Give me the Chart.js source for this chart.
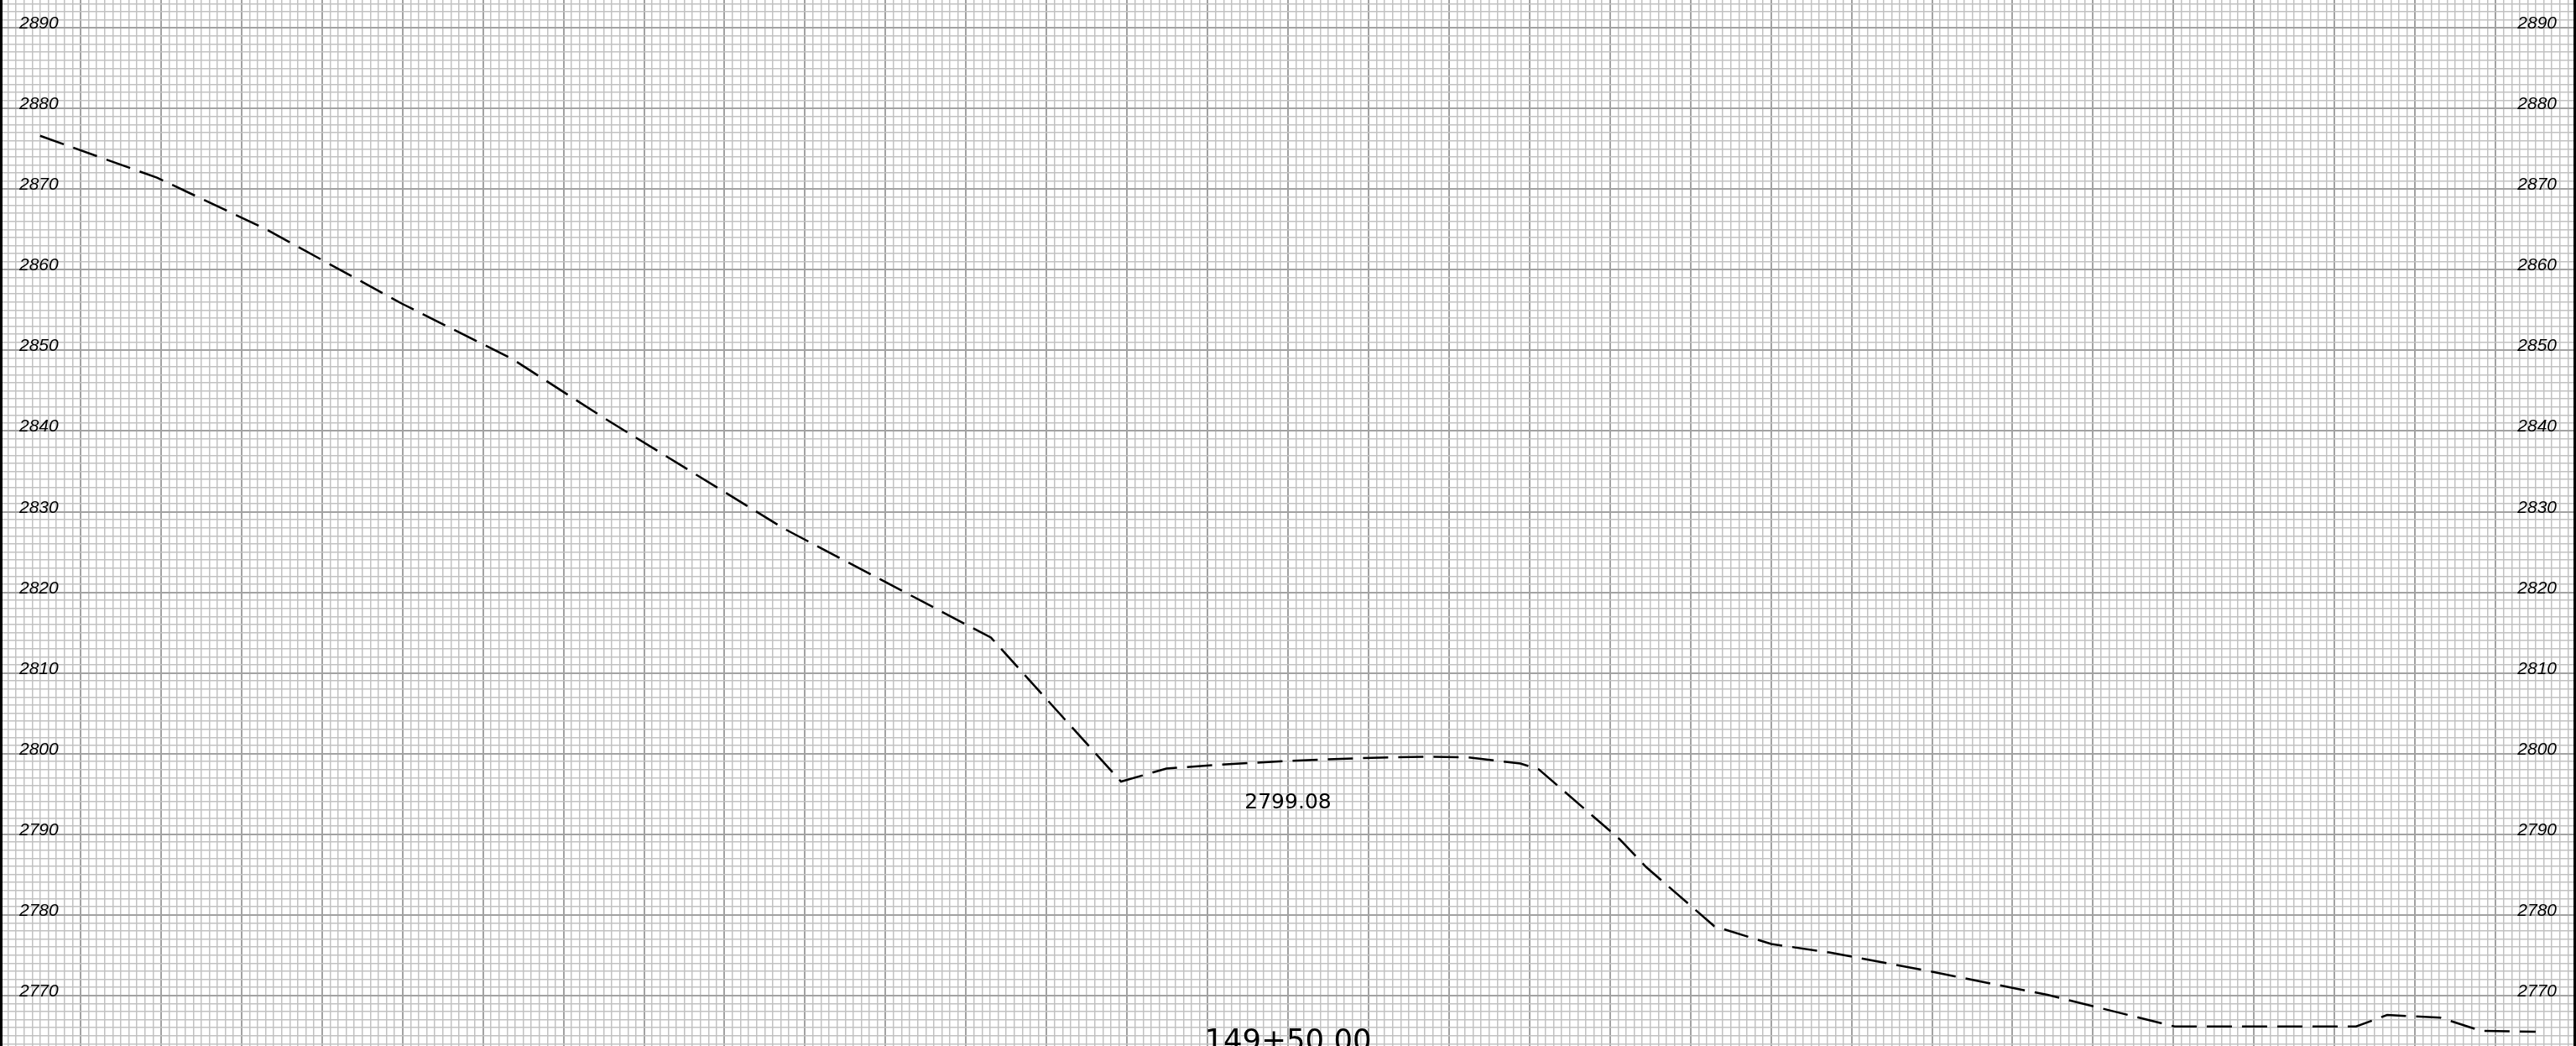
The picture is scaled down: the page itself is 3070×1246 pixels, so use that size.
<!DOCTYPE html>
<html>
<head>
<meta charset="utf-8">
<script src="https://cdn.jsdelivr.net/npm/chart.js@4.4.1/dist/chart.umd.min.js"></script>
<style>
  html, body { margin: 0; padding: 0; background: #ffffff; overflow: hidden; }
  #wrap { width: 3070px; height: 1246px; position: relative; }
  canvas { display: block; }
</style>
</head>
<body>
<div id="wrap"><canvas id="c" width="3070" height="1246"></canvas></div>
<script>
// ---- data (offset from centerline, elevation) ----
const offsets = [-155.02, -140.50, -127.16, -110.07, -96.41, -84.95, -62.54, -36.90,
  -20.74, -15.11, -8.34, 0, 9.17, 17.20, 22.41, 28.87, 31.17, 41.17, 44.51, 52.95,
  60.04, 67.23, 79.74, 94.33, 110.12, 132.69, 136.54, 143.16, 148.23, 154.99];
const elevations = [2876.63, 2871.43, 2865.14, 2855.80, 2848.97, 2841.61, 2827.86, 2814.38,
  2796.52, 2798.13, 2798.63, 2799.08, 2799.43, 2799.61, 2799.51, 2798.76, 2798.03, 2789.39,
  2785.90, 2778.58, 2776.37, 2775.33, 2772.98, 2770.07, 2766.14, 2766.14, 2767.57, 2767.23,
  2765.59, 2765.49];
const yTickLabels = ["2890","2880","2870","2860","2850","2840","2830","2820","2810","2800","2790","2780","2770"];
const centerElevationLabel = "2799.08";
const stationLabel = "149+50.00";

const points = offsets.map((x, i) => ({ x: x, y: elevations[i] }));

const MAJOR = '#a2a2a2';
const MINOR = '#c2c2c2';
const isMajor = v => Math.abs(Math.round(v) % 10) === 0;

const textPlugin = {
  id: 'sheetText',
  afterDatasetsDraw(chart) {
    const ctx = chart.ctx;
    const xs = chart.scales.x, ys = chart.scales.y;
    ctx.save();
    ctx.fillStyle = '#000';
    ctx.font = 'italic 21px "Liberation Sans", Arial, sans-serif';
    ctx.textBaseline = 'alphabetic';
    yTickLabels.forEach(t => {
      const py = ys.getPixelForValue(parseFloat(t)) + 1;
      ctx.textAlign = 'left';
      ctx.fillText(t, 23, py);
      ctx.textAlign = 'right';
      ctx.fillText(t, chart.width - 23, py);
    });
    const cx = xs.getPixelForValue(0);
    const cy = ys.getPixelForValue(parseFloat(centerElevationLabel));
    ctx.font = '25px "DejaVu Sans", sans-serif';
    ctx.textAlign = 'center';
    ctx.fillText(centerElevationLabel, cx, cy + 57);
    ctx.font = '35.5px "DejaVu Sans", sans-serif';
    ctx.fillText(stationLabel, cx, chart.height + 5);
    ctx.fillStyle = '#000';
    ctx.fillRect(0, 0, 3, chart.height);
    ctx.fillRect(chart.width - 3, 0, 3, chart.height);
    ctx.restore();
  }
};

new Chart(document.getElementById('c'), {
  type: 'line',
  data: {
    datasets: [{
      data: points,
      borderColor: '#000000',
      borderWidth: 2.5,
      borderDash: [30, 12],
      pointRadius: 0,
      tension: 0,
      fill: false
    }]
  },
  options: {
    responsive: false,
    devicePixelRatio: 1,
    animation: false,
    events: [],
    layout: { padding: 0 },
    plugins: { legend: { display: false }, tooltip: { enabled: false } },
    scales: {
      x: {
        type: 'linear',
        min: -160, max: 160,
        border: { display: false },
        ticks: { display: false, stepSize: 1, autoSkip: false, includeBounds: false },
        grid: {
          drawTicks: false,
          color: c => isMajor(c.tick.value) ? MAJOR : MINOR,
          lineWidth: c => isMajor(c.tick.value) ? 2 : 1.5
        }
      },
      y: {
        type: 'linear',
        min: 2763.72, max: 2893.47,
        border: { display: false },
        ticks: { display: false, stepSize: 1, autoSkip: false, includeBounds: false },
        grid: {
          drawTicks: false,
          color: c => isMajor(c.tick.value) ? MAJOR : MINOR,
          lineWidth: c => isMajor(c.tick.value) ? 2 : 1.5
        }
      }
    }
  },
  plugins: [textPlugin]
});
</script>
</body>
</html>
